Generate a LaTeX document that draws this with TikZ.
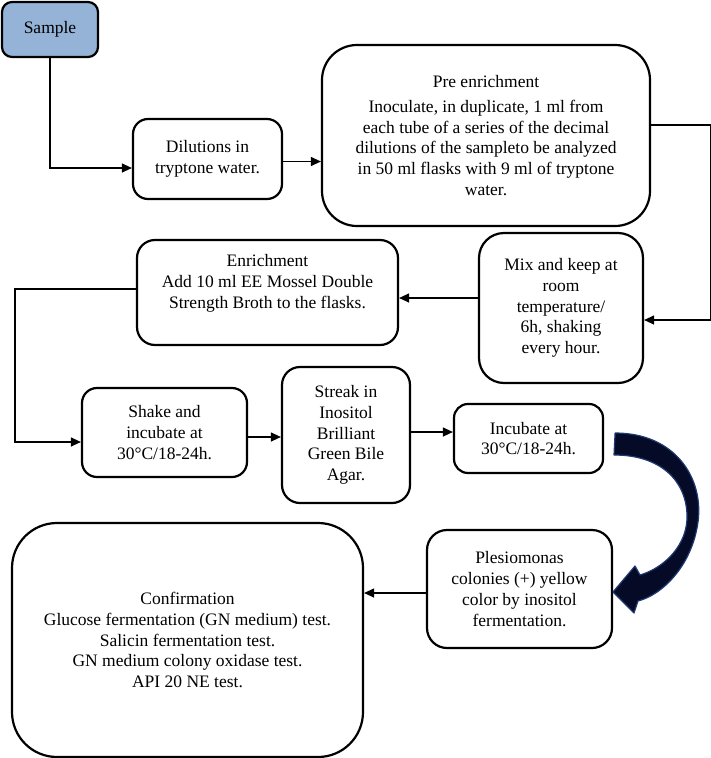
\documentclass[tikz,border=0pt]{standalone}
\usepackage{fontspec}
\setmainfont{Liberation Serif}
\usetikzlibrary{arrows.meta}
\definecolor{samplefill}{HTML}{95B3D7}
\definecolor{bendfill}{HTML}{050A26}
\definecolor{bendline}{HTML}{1F3A70}
\tikzset{
  stepbox/.style={draw, line width=2.2pt, align=center, inner sep=0pt,
    font=\fontsize{17.5}{20.8}\selectfont},
  link/.style={line width=1.2pt, -{Triangle[length=10pt,width=9pt]}},
}
\begin{document}
\begin{tikzpicture}[x=1pt, y=-1pt]
\useasboundingbox (0,0) rectangle (711,758);

\node[stepbox, fill=samplefill, rounded corners=10pt, minimum width=96pt, minimum height=55pt]
  (sample) at (50,29.5) {Sample};
\node[stepbox, rounded corners=15pt, minimum width=149pt, minimum height=80pt]
  (dilution) at (207.5,159) {Dilutions in\\ tryptone water.};
\node[stepbox, rounded corners=35pt, minimum width=328pt, minimum height=181pt]
  (preenrich) at (486,135.5) {Pre enrichment\\[4pt]
  Inoculate, in duplicate, 1 ml from\\ each tube of a series of the decimal\\
  dilutions of the sampleto be analyzed\\ in 50 ml flasks with 9 ml of tryptone\\ water.};
\node[stepbox, rounded corners=25pt, minimum width=164pt, minimum height=150pt]
  (mix) at (561,308) {Mix and keep at\\ room\\ temperature/\\ 6h, shaking\\ every hour.};
\node[stepbox, rounded corners=18pt, minimum width=261pt, minimum height=105pt, text depth=22pt]
  (enrich) at (267.5,292.5) {Enrichment\\ Add 10 ml EE Mossel Double\\ Strength Broth to the flasks.};
\node[stepbox, rounded corners=15pt, minimum width=165pt, minimum height=89pt]
  (shake) at (164.5,432.5) {Shake and\\ incubate at\\ 30°C/18-24h.};
\node[stepbox, rounded corners=18pt, minimum width=128pt, minimum height=136pt]
  (streak) at (346,435) {Streak in\\ Inositol\\ Brilliant\\ Green Bile\\ Agar.};
\node[stepbox, rounded corners=14pt, minimum width=149pt, minimum height=69pt]
  (incubate) at (528.5,438.5) {Incubate at\\ 30°C/18-24h.};
\node[stepbox, rounded corners=20pt, minimum width=185pt, minimum height=118pt]
  (plesio) at (519.5,589) {Plesiomonas\\ colonies (+) yellow\\ color by inositol\\ fermentation.};
\node[stepbox, rounded corners=45pt, minimum width=351pt, minimum height=234pt]
  (confirm) at (187.5,640) {Confirmation\\ Glucose fermentation (GN medium) test.\\
  Salicin fermentation test.\\ GN medium colony oxidase test.\\ API 20 NE test.};

%%%%%%%%%%%%%%%%%%%%%%%%%%%%%%%%%%%%%%%%

\draw[link] (sample.south) |- ([yshift=-9pt]dilution.west);
\draw[link] ([yshift=-2.5pt]dilution.east) -- ([yshift=-2.5pt]dilution.east -| preenrich.west);
\draw[link] ([yshift=10.5pt]preenrich.east) -- ++(59,0) |- ([yshift=-12pt]mix.east);
\draw[link] ([yshift=10pt]mix.west) -- ([yshift=10pt]mix.west -| enrich.east);
\draw[link] ([yshift=3.5pt]enrich.west) -- ++(-121,0) |- ([yshift=-9.5pt]shake.west);
\draw[link] ([yshift=-4.5pt]shake.east) -- ([yshift=-4.5pt]shake.east -| streak.west);
\draw[link] ([yshift=3pt]streak.east) -- ([yshift=3pt]streak.east -| incubate.west);
\draw[link] ([yshift=-4pt]plesio.west) -- ([yshift=-4pt]plesio.west -| confirm.east);

%%%%%%%%%%%%%%%%%%%%%%%%%%%%%%%%%%%%%%%%

\path ([xshift=11pt,yshift=5.5pt]incubate.east) coordinate (bendstart);
\filldraw[fill=bendfill, draw=bendline, line width=1.2pt, line join=round]
     (bendstart)
  .. controls (675,433) and (704,478) .. (698,522)
  .. controls (692,566) and (662,595) .. (638,601)
  -- (634,613)
  -- (613,592)
  -- (635,566)
  -- (640,575)
  .. controls (664,568) and (688,545) .. (687,515)
  .. controls (686,480) and (660,455) .. (614,455)
  -- cycle;
\end{tikzpicture}
\end{document}
